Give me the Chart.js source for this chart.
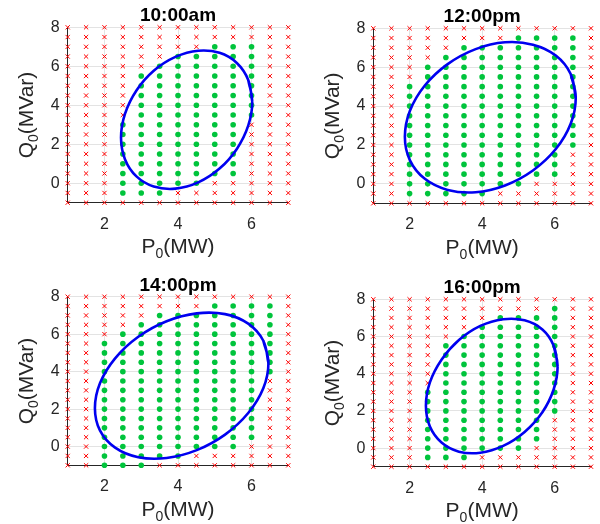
<!DOCTYPE html>
<html>
<head>
<meta charset="utf-8">
<script src="https://cdn.jsdelivr.net/npm/chart.js@4.4.1/dist/chart.umd.min.js"></script>
<style>
  html, body { margin: 0; padding: 0; background: #fff; }
  #wrap { position: relative; width: 600px; height: 524px; overflow: hidden; }
  .cell { position: absolute; width: 300px; height: 262px; }
</style>
</head>
<body>
<div id="wrap">
  <div class="cell" style="left:0;top:0"><canvas id="c0" width="300" height="262"></canvas></div>
  <div class="cell" style="left:300px;top:0"><canvas id="c1" width="300" height="262"></canvas></div>
  <div class="cell" style="left:0;top:262px"><canvas id="c2" width="300" height="262"></canvas></div>
  <div class="cell" style="left:300px;top:262px"><canvas id="c3" width="300" height="262"></canvas></div>
</div>
<script>
// sample grid (P in MW, Q in MVar)
const gridP = [1, 1.5, 2, 2.5, 3, 3.5, 4, 4.5, 5, 5.5, 6, 6.5, 7];
const gridQ = [-1, -0.5, 0, 0.5, 1, 1.5, 2, 2.5, 3, 3.5, 4, 4.5, 5, 5.5, 6, 6.5, 7, 7.5, 8];
const pTicks = [2, 4, 6];
const qTicks = [0, 2, 4, 6, 8];

const titles = ['10:00am', '12:00pm', '14:00pm', '16:00pm'];

// feasible (green) Q range per P column, null = none feasible
const lo10 = [null, null, null, -0.5, -0.5, -0.5, 0, 0, 0.5, 0.5, 3.5, null, null];
const hi10 = [null, null, null, 3, 5.5, 6, 6.5, 6.5, 7, 7, 7, null, null];
const lo12 = [null, null, -0.5, -0.5, -0.5, -0.5, -0.5, 0, 0, 0.5, 0.5, 2, null];
const hi12 = [null, null, 5, 6, 6.5, 7, 7, 7, 7.5, 7.5, 7.5, 7.5, null];
const lo14 = [null, null, -1, -1, -1, -0.5, -0.5, 0, 0, 0, 0.5, 4, null];
const hi14 = [null, null, 5.5, 6, 6.5, 7, 7, 7, 7.5, 7.5, 7.5, 7.5, null];
const lo16 = [null, null, null, -0.5, -0.5, -0.5, 0, 0, 0, 0.5, 2, null, null];
const hi16 = [null, null, null, 3, 5.5, 6, 6.5, 7, 7, 7, 7.5, null, null];

// points along the blue boundary ellipse (last two repeat the start to close it)
const ringP10 = [6.02, 5.91, 5.60, 5.13, 4.55, 3.93, 3.34, 2.87, 2.56, 2.45, 2.56, 2.87, 3.34, 3.93, 4.55, 5.13, 5.60, 5.91, 6.02, 5.91];
const ringQ10 = [4.18, 5.30, 6.17, 6.69, 6.80, 6.48, 5.77, 4.76, 3.57, 2.34, 1.22, 0.35, -0.17, -0.28, 0.04, 0.75, 1.76, 2.95, 4.18, 5.30];
const ringP12 = [6.58, 6.44, 6.03, 5.40, 4.63, 3.82, 3.05, 2.42, 2.01, 1.87, 2.01, 2.42, 3.05, 3.82, 4.63, 5.40, 6.03, 6.44, 6.58, 6.44];
const ringQ12 = [4.43, 5.65, 6.60, 7.16, 7.28, 6.93, 6.16, 5.06, 3.76, 2.42, 1.21, 0.26, -0.31, -0.43, -0.08, 0.69, 1.79, 3.09, 4.43, 5.65];
const ringP14 = [6.46, 6.32, 5.91, 5.28, 4.51, 3.69, 2.92, 2.29, 1.88, 1.74, 1.88, 2.29, 2.92, 3.69, 4.51, 5.28, 5.91, 6.32, 6.46, 6.32];
const ringQ14 = [4.46, 5.65, 6.56, 7.07, 7.11, 6.69, 5.86, 4.71, 3.39, 2.05, 0.85, -0.06, -0.57, -0.61, -0.19, 0.64, 1.79, 3.11, 4.46, 5.65];
const ringP16 = [6.08, 5.97, 5.66, 5.17, 4.58, 3.95, 3.36, 2.88, 2.56, 2.45, 2.56, 2.88, 3.36, 3.95, 4.58, 5.17, 5.66, 5.97, 6.08, 5.97];
const ringQ16 = [4.40, 5.52, 6.38, 6.87, 6.93, 6.57, 5.81, 4.75, 3.53, 2.28, 1.16, 0.30, -0.19, -0.25, 0.12, 0.87, 1.93, 3.15, 4.40, 5.52];

const FONT = '"Liberation Sans", Arial, Helvetica, sans-serif';
const INK = '#262626';
const RED = '#ff0000';
const GREEN = '#00c43c';
const BLUE = '#0000f0';

// plot box inside each 300x262 cell: left, top, right, bottom
const boxes = [
  [67.7, 27.3, 288.3, 202.7],
  [73.3, 28.3, 291, 203.3],
  [67.7, 34.7, 288.3, 203.3],
  [73.3, 37.3, 291, 204.7]
];

const panels = [
  { lo: lo10, hi: hi10, rp: ringP10, rq: ringQ10 },
  { lo: lo12, hi: hi12, rp: ringP12, rq: ringQ12 },
  { lo: lo14, hi: hi14, rp: ringP14, rq: ringQ14 },
  { lo: lo16, hi: hi16, rp: ringP16, rq: ringQ16 }
];

function drawSub(ctx, main, sub, rest, cx, by) {
  const big = '21px ' + FONT, small = '14px ' + FONT;
  ctx.font = big;
  const w1 = ctx.measureText(main).width, w3 = ctx.measureText(rest).width;
  ctx.font = small;
  const w2 = ctx.measureText(sub).width;
  let x = cx - (w1 + w2 + w3) / 2;
  ctx.textAlign = 'left';
  ctx.textBaseline = 'alphabetic';
  ctx.font = big; ctx.fillText(main, x, by); x += w1;
  ctx.font = small; ctx.fillText(sub, x, by + 5); x += w2;
  ctx.font = big; ctx.fillText(rest, x, by);
}

// panel title centred over the plot, and axis titles with subscript 0
const panelText = {
  id: 'panelText',
  afterDraw(chart, args, opts) {
    const { ctx, chartArea: a } = chart;
    ctx.save();
    ctx.fillStyle = '#000';
    ctx.font = 'bold 19px ' + FONT;
    ctx.textAlign = 'center';
    ctx.textBaseline = 'alphabetic';
    ctx.fillText(opts.text, (a.left + a.right) / 2, a.top - 6);
    ctx.fillStyle = INK;
    drawSub(ctx, 'P', '0', '(MW)', (a.left + a.right) / 2, a.bottom + 50.5);
    ctx.translate(a.left - 34.7, (a.top + a.bottom) / 2);
    ctx.rotate(-Math.PI / 2);
    drawSub(ctx, 'Q', '0', '(MVar)', 0, 0);
    ctx.restore();
  }
};

panels.forEach((pn, k) => {
  const ok = [], bad = [];
  gridP.forEach((p, i) => {
    gridQ.forEach(q => {
      const inside = pn.lo[i] !== null && q >= pn.lo[i] && q <= pn.hi[i];
      (inside ? ok : bad).push({ x: p, y: q });
    });
  });
  const ring = pn.rp.map((p, i) => ({ x: p, y: pn.rq[i] }));
  const b = boxes[k];

  new Chart(document.getElementById('c' + k), {
    type: 'scatter',
    data: {
      datasets: [
        { type: 'line', data: ring, borderColor: BLUE, borderWidth: 2.6, pointRadius: 0,
          tension: 0.4, fill: false, order: 0 },
        { data: ok, pointStyle: 'circle', pointRadius: 2.8, backgroundColor: GREEN,
          borderWidth: 0, order: 1, clip: false },
        { data: bad, pointStyle: 'crossRot', pointRadius: 3, borderColor: RED,
          backgroundColor: RED, borderWidth: 1, order: 2, clip: false }
      ]
    },
    options: {
      responsive: false,
      animation: false,
      events: [],
      layout: { padding: { left: 0, right: 300 - b[2], top: b[1], bottom: 0 } },
      plugins: {
        legend: { display: false },
        tooltip: { enabled: false },
        title: { display: false },
        panelText: { text: titles[k] }
      },
      scales: {
        x: {
          type: 'linear', min: 1, max: 7,
          afterFit: s => { s.height = 262 - b[3]; },
          afterBuildTicks: s => { s.ticks = pTicks.map(v => ({ value: v })); },
          grid: { color: '#e3e3e3', lineWidth: 1, drawTicks: false },
          border: { color: INK, width: 1 },
          ticks: { color: INK, font: { family: FONT, size: 16 }, padding: 12, maxRotation: 0 }
        },
        y: {
          type: 'linear', min: -1, max: 8,
          afterFit: s => { s.width = b[0]; },
          afterBuildTicks: s => { s.ticks = qTicks.map(v => ({ value: v })); },
          grid: { color: '#e3e3e3', lineWidth: 1, drawTicks: false },
          border: { color: INK, width: 1 },
          ticks: { color: INK, font: { family: FONT, size: 16 }, padding: 8 }
        }
      }
    },
    plugins: [panelText]
  });
});
</script>
</body>
</html>
